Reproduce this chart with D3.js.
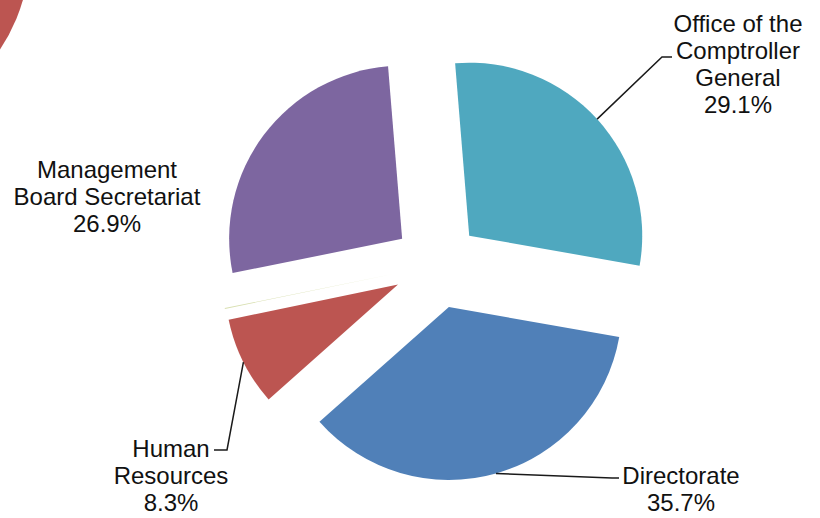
<!DOCTYPE html>
<html>
<head>
<meta charset="utf-8">
<script src="https://cdn.jsdelivr.net/npm/d3@7"></script>
<style>
  body { margin: 0; background: #fff; }
  svg text { font-family: "Liberation Sans", Arial, sans-serif; }
</style>
</head>
<body>
<div id="pie"></div>
<script>
// Data (slices in drawing order, clockwise)
const departments = ["Directorate", "Human Resources", "", "Management Board Secretariat", "Office of the Comptroller General"];
const shares = [35.7, 8.3, 0.08, 26.9, 29.1];
const sliceColors = ["#5080b8", "#bc5551", "#d8dfb0", "#7d66a0", "#4fa8bf"];
// label lines as shown in the picture
const labelLines = [
    ["Directorate", "35.7%"],
    ["Human", "Resources", "8.3%"],
    [],
    ["Management", "Board Secretariat", "26.9%"],
    ["Office of the", "Comptroller", "General", "29.1%"]
];

const width = 820, height = 518;
const cx = 437, cy = 265;
const radius = 173;
const explode = 43.6;
const lineHeight = 27;

const svg = d3.select("#pie")
    .append("svg")
    .attr("width", width)
    .attr("height", height);

// piece of another chart peeking in at top-left corner
svg.append("circle")
    .attr("cx", -150)
    .attr("cy", -50)
    .attr("r", 180)
    .attr("fill", "#bc5551");

const data = departments.map((d, i) => ({ name: d, value: shares[i], color: sliceColors[i], lines: labelLines[i] }));

const pie = d3.pie()
    .value(d => d.value)
    .sort(null)
    .startAngle(100 * Math.PI / 180)
    .endAngle(460 * Math.PI / 180);

const arcs = pie(data);

const arc = d3.arc().innerRadius(0).outerRadius(radius);
const edgeArc = d3.arc().innerRadius(radius).outerRadius(radius);

const offset = d => {
    const a = (d.startAngle + d.endAngle) / 2;
    return [Math.sin(a) * explode, -Math.cos(a) * explode];
};

const g = svg.append("g")
    .attr("transform", `translate(${cx},${cy})`);

// exploded slices
g.selectAll("path.slice")
    .data(arcs)
    .enter()
    .append("path")
    .attr("class", "slice")
    .attr("transform", d => `translate(${offset(d)})`)
    .attr("d", arc)
    .attr("fill", d => d.data.color);

// label anchors (absolute page coords) and leader line elbows
const labelPos = {
    "Directorate": { x: 681, y: 484, elbow: [[612, 478], [619, 478]] },
    "Human Resources": { x: 171, y: 457, elbow: [[227, 450], [214, 450]] },
    "Management Board Secretariat": { x: 107, y: 178, elbow: null },
    "Office of the Comptroller General": { x: 738, y: 32, elbow: [[662, 57], [672, 57]] }
};

arcs.forEach(d => {
    const pos = labelPos[d.data.name];
    if (!pos) return;
    const off = offset(d);
    const c = edgeArc.centroid(d);
    const start = [cx + off[0] + c[0], cy + off[1] + c[1]];

    if (pos.elbow) {
        svg.append("path")
            .attr("d", d3.line()([start, ...pos.elbow]))
            .attr("fill", "none")
            .attr("stroke", "#1a1a1a")
            .attr("stroke-width", 1.5);
    }

    const text = svg.append("text")
        .attr("x", pos.x)
        .attr("y", pos.y)
        .attr("text-anchor", "middle")
        .style("font-size", "24px")
        .attr("fill", "#111");

    d.data.lines.forEach((line, i) => {
        text.append("tspan")
            .attr("x", pos.x)
            .attr("y", pos.y + i * lineHeight)
            .text(line);
    });
});
</script>
</body>
</html>
